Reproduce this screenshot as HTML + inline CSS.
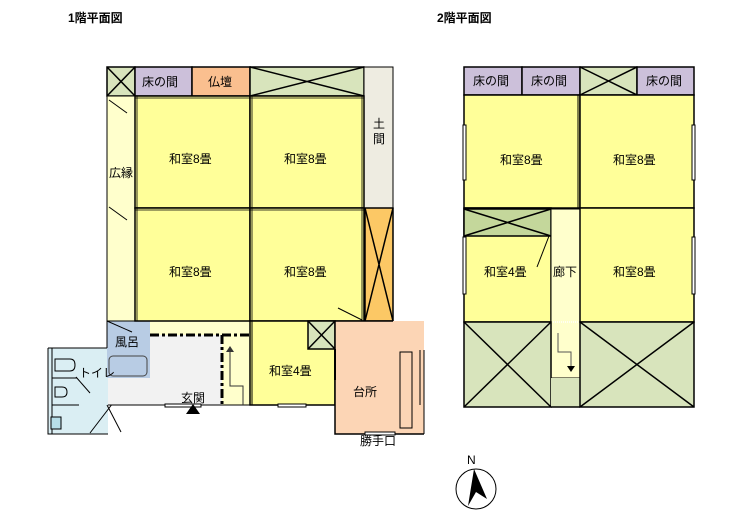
<!DOCTYPE html>
<html><head><meta charset="utf-8"><style>
html,body{margin:0;padding:0;background:#fff;}
svg{display:block;}
text{font-family:"Liberation Sans","Noto Sans CJK JP",sans-serif;font-size:12px;fill:#000;}
</style></head><body>
<svg width="733" height="525" viewBox="0 0 733 525" xmlns="http://www.w3.org/2000/svg">
<text x="68" y="22" font-weight="bold" font-size="11">1階平面図</text>
<text x="437" y="22" font-weight="bold" font-size="11">2階平面図</text>

<!-- ===== 1F ===== -->
<g stroke="#000" stroke-width="1.5">
<!-- toilet -->
<rect x="48" y="348" width="60" height="86" fill="#daeef3" stroke="none"/>
<path d="M48,348 H108 M48,348 V434 H108 M52,348 V434" fill="none" stroke-width="1"/>
<path d="M55,359 H70 Q75,359 75,365 Q75,371 70,371 H55 Z" fill="none" stroke-width="1"/>
<path d="M55,387 H62 Q67,387 67,392 Q67,397 62,397 H55 Z" fill="none" stroke-width="1"/>
<line x1="52" y1="378" x2="77" y2="378" stroke-width="1"/>
<line x1="52" y1="405" x2="79" y2="405" stroke-width="1"/>
<rect x="51" y="417" width="10" height="12" fill="#b7dee8" stroke-width="1"/>
<line x1="76" y1="377" x2="90" y2="393" stroke-width="1"/>
<line x1="90" y1="433" x2="126" y2="386" stroke-width="1"/>
<line x1="107" y1="405" x2="121" y2="432" stroke-width="1"/>
<!-- entrance gray -->
<rect x="108" y="335" width="142" height="70" fill="#f2f2f2" stroke="none"/>
<rect x="150" y="321" width="100" height="14" fill="#ffffcc" stroke="none"/>
<rect x="222" y="335" width="28" height="70" fill="#ffffcc" stroke="none"/>
<line x1="108" y1="405" x2="250" y2="405" stroke-width="1"/>
<!-- furo -->
<rect x="107" y="321" width="43" height="57" fill="#b8cce4" stroke="none"/>
<line x1="107" y1="321" x2="107" y2="348" stroke-width="1"/>
<rect x="109" y="356" width="38" height="20" rx="4" fill="#b8cce4" stroke="#444" stroke-width="1"/>
<line x1="107" y1="321" x2="132" y2="332" stroke-width="1"/>
<!-- top row -->
<rect x="107" y="67" width="28" height="29" fill="#d8e4bc"/>
<path d="M107,67 L135,96 M135,67 L107,96" stroke-width="1.5"/>
<rect x="135" y="67" width="57" height="29" fill="#ccc0da"/>
<rect x="192" y="67" width="58" height="29" fill="#fabf8f"/>
<rect x="250" y="67" width="114" height="29" fill="#d8e4bc"/>
<path d="M250,67 L364,96 M364,67 L250,96" stroke-width="1.5"/>
<rect x="364" y="67" width="29" height="141" fill="#eeece1" stroke-width="1"/>
<line x1="393" y1="152" x2="393" y2="240" stroke-width="1"/>
<!-- hiroen -->
<rect x="107" y="96" width="28" height="225" fill="#ffffcc" stroke-width="1"/>
<line x1="109" y1="100" x2="127" y2="113" stroke-width="1"/>
<line x1="109" y1="207" x2="127" y2="220" stroke-width="1"/>
<!-- rooms -->
<rect x="135" y="96" width="115" height="112" fill="#ffff99"/>
<rect x="250" y="96" width="114" height="112" fill="#ffff99"/>
<rect x="135" y="208" width="115" height="113" fill="#ffff99"/>
<rect x="250" y="208" width="114" height="113" fill="#ffff99"/>
<path d="M135,98 H250 M250,98 H364 M135,210 H364 M137,96 V321 M252,96 V321 M362,96 V321" stroke-width="0.8" fill="none"/>
<line x1="338" y1="308" x2="362" y2="320" stroke-width="1"/>
<!-- orange x -->
<rect x="365" y="208" width="28" height="113" fill="#fcc865"/>
<path d="M365,208 L393,321 M393,208 L365,321" stroke-width="1.5"/>
<!-- 4jo -->
<rect x="250" y="321" width="85" height="84" fill="#ffff99"/>
<line x1="252" y1="321" x2="252" y2="405" stroke-width="1"/>
<rect x="308" y="321" width="27" height="28" fill="#d8e4bc"/>
<path d="M308,321 L335,349 M335,321 L308,349" stroke-width="1.5"/>
<rect x="278" y="404" width="28" height="3" fill="#fff" stroke-width="1"/>
<!-- kitchen -->
<rect x="335" y="321" width="89" height="113" fill="#fcd5b5" stroke="none"/>
<path d="M335,321 V434 H424 M393,321 H335" fill="none"/>
<line x1="424" y1="350" x2="424" y2="434" stroke-width="1"/>
<line x1="420" y1="350" x2="420" y2="405" stroke-width="1"/>
<line x1="335" y1="349" x2="335" y2="380" stroke-width="2"/>
<rect x="400" y="352" width="12" height="76" fill="none" stroke-width="1"/>
<rect x="365" y="432" width="30" height="3" fill="#fff" stroke-width="1"/>
<!-- dashed -->
<path d="M150,335 H250 M222,335 V407" fill="none" stroke-width="3" stroke-dasharray="9,3,3,3"/>
<!-- stair arrow -->
<path d="M230,371 V386 H243 V405" fill="none" stroke="#333" stroke-width="1"/>
<path d="M226,352 L230,346 L234,352 Z" fill="#333" stroke="none"/>
<line x1="230" y1="352" x2="230" y2="371" stroke="#333" stroke-width="1"/>
<rect x="165" y="404" width="36" height="3" fill="#fff" stroke-width="1"/>
<path d="M186,414 L193,404 L200,414 Z" fill="#000" stroke="none"/>
</g>
<text x="142" y="86">床の間</text>
<text x="208" y="86">仏壇</text>
<text x="373" y="128">土</text>
<text x="373" y="143">間</text>
<text x="109" y="177">広縁</text>
<text x="169" y="163">和室8畳</text>
<text x="284" y="163">和室8畳</text>
<text x="169" y="276">和室8畳</text>
<text x="284" y="276">和室8畳</text>
<text x="115" y="346">風呂</text>
<text x="79" y="377" font-size="11">トイレ</text>
<text x="181" y="402">玄関</text>
<text x="269" y="375">和室4畳</text>
<text x="353" y="396">台所</text>
<text x="360" y="445">勝手口</text>

<!-- ===== 2F ===== -->
<g stroke="#000" stroke-width="1.5">
<rect x="464" y="67" width="58" height="28" fill="#ccc0da"/>
<rect x="522" y="67" width="58" height="28" fill="#ccc0da"/>
<rect x="580" y="67" width="57" height="28" fill="#d8e4bc"/>
<path d="M580,67 L637,95 M637,67 L580,95"/>
<rect x="637" y="67" width="57" height="28" fill="#ccc0da"/>
<rect x="464" y="95" width="116" height="113" fill="#ffff99"/>
<rect x="580" y="95" width="114" height="113" fill="#ffff99"/>
<line x1="578" y1="95" x2="578" y2="275" stroke-width="1"/>
<rect x="464" y="208" width="87" height="114" fill="#ffff99"/>
<rect x="464" y="209" width="87" height="27" fill="#c4d79b"/>
<path d="M464,209 L551,236 M551,209 L464,236"/>
<line x1="549" y1="236" x2="537" y2="267" stroke-width="1"/>
<rect x="551" y="209" width="29" height="169" fill="#ffffcc" stroke-width="1"/>
<rect x="580" y="208" width="114" height="114" fill="#ffff99"/>
<rect x="464" y="322" width="87" height="85" fill="#d8e4bc"/>
<path d="M464,322 L551,407 M551,322 L464,407"/>
<rect x="551" y="378" width="29" height="29" fill="#d8e4bc" stroke="none"/>
<line x1="551" y1="407" x2="580" y2="407"/>
<rect x="580" y="322" width="114" height="85" fill="#d8e4bc"/>
<path d="M580,322 L694,407 M694,322 L580,407"/>
<line x1="553" y1="322" x2="578" y2="322" stroke-width="1.5" stroke-dasharray="1,1" stroke="#fff"/>
<path d="M558,333 V352 H571 V368" fill="none" stroke="#555" stroke-width="1"/>
<path d="M567,366 L571,372 L575,366 Z" fill="#000" stroke="none"/>
<rect x="463" y="125" width="3" height="55" fill="#fff" stroke-width="1"/>
<rect x="692" y="125" width="3" height="55" fill="#fff" stroke-width="1"/>
<rect x="463" y="237" width="3" height="57" fill="#fff" stroke-width="1"/>
<rect x="692" y="237" width="3" height="57" fill="#fff" stroke-width="1"/>
</g>
<text x="473" y="85">床の間</text>
<text x="531" y="85">床の間</text>
<text x="646" y="85">床の間</text>
<text x="500" y="164">和室8畳</text>
<text x="613" y="164">和室8畳</text>
<text x="484" y="276">和室4畳</text>
<text x="553" y="276">廊下</text>
<text x="613" y="276">和室8畳</text>

<!-- compass -->
<circle cx="476" cy="489" r="20" fill="none" stroke="#000" stroke-width="1"/>
<path d="M474,469 L487,499 L476,492 L468,506 Z" fill="#000"/>
<text x="467" y="464" font-family="Liberation Serif,serif" font-size="9">N</text>
</svg>
</body></html>
